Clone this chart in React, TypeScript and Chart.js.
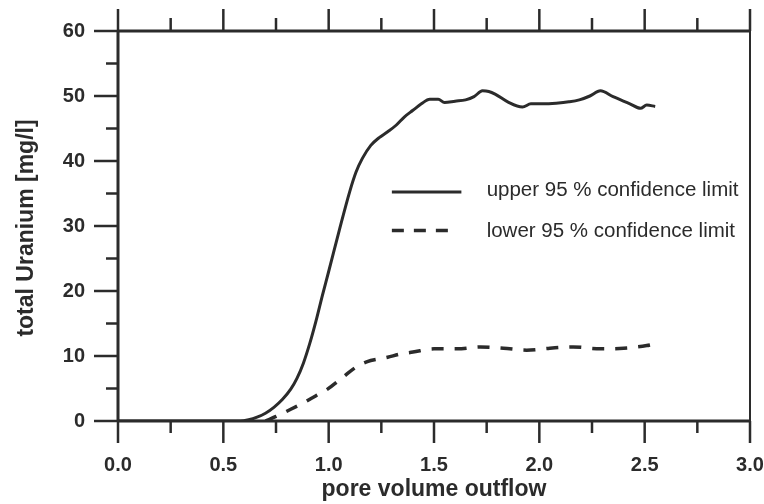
import React, { useEffect, useRef } from "react";
import { Chart, registerables } from "chart.js";

Chart.register(...registerables);

// ---- data ----
const UPPER_X = [0, 0.3, 0.58, 0.62, 0.66, 0.7, 0.74, 0.78, 0.82, 0.85, 0.88, 0.91, 0.94, 0.97, 1.0, 1.05, 1.1, 1.13, 1.16, 1.2, 1.24, 1.28, 1.32, 1.36, 1.4, 1.44, 1.48, 1.52, 1.55, 1.6, 1.65, 1.69, 1.73, 1.76, 1.79, 1.85, 1.92, 1.96, 2.02, 2.08, 2.14, 2.19, 2.24, 2.29, 2.35, 2.43, 2.48, 2.51, 2.55];
const UPPER_Y = [0, 0, 0, 0.2, 0.6, 1.2, 2.1, 3.3, 4.9, 6.6, 8.9, 11.9, 15.4, 19.3, 23.0, 29.3, 35.3, 38.3, 40.4, 42.4, 43.6, 44.5, 45.5, 46.8, 47.8, 48.8, 49.5, 49.5, 49.0, 49.2, 49.4, 49.9, 50.8, 50.7, 50.3, 49.1, 48.3, 48.8, 48.8, 48.9, 49.1, 49.4, 50.0, 50.8, 49.9, 48.8, 48.1, 48.6, 48.4];

const LOWER_X = [0.7, 0.75, 0.82, 0.88, 0.94, 0.99, 1.07, 1.13, 1.18, 1.28, 1.34, 1.4, 1.5, 1.61, 1.72, 1.83, 1.94, 2.05, 2.16, 2.29, 2.4, 2.51, 2.54];
const LOWER_Y = [0, 0.7, 1.8, 2.8, 3.9, 4.8, 6.8, 8.3, 9.1, 9.8, 10.3, 10.6, 11.1, 11.1, 11.4, 11.2, 10.9, 11.2, 11.4, 11.1, 11.2, 11.6, 11.8];

const X_MAJOR = [0, 0.5, 1.0, 1.5, 2.0, 2.5, 3.0];
const X_LABELS = ["0.0", "0.5", "1.0", "1.5", "2.0", "2.5", "3.0"];
const X_MINOR = [0.25, 0.75, 1.25, 1.75, 2.25, 2.75];
const Y_MAJOR = [0, 10, 20, 30, 40, 50, 60];
const Y_LABELS = ["0", "10", "20", "30", "40", "50", "60"];
const Y_MINOR = [5, 15, 25, 35, 45, 55];

const SERIES_NAMES = ["upper 95 % confidence limit", "lower 95 % confidence limit"];
const X_TITLE = "pore volume outflow";
const Y_TITLE = "total Uranium [mg/l]";

const INK = "#2b2b2b";
const BOLD = "bold 20px 'Liberation Sans', Arial, sans-serif";
const TITLE = "bold 23px 'Liberation Sans', Arial, sans-serif";
const LEG = "20.5px 'Liberation Sans', Arial, sans-serif";

const framePlugin = {
  id: "frame",
  afterDatasetsDraw(chart: any) {
    const { ctx, chartArea, scales } = chart;
    const { left, right, top, bottom } = chartArea;
    const xs = scales.x;
    const ys = scales.y;
    ctx.save();
    ctx.strokeStyle = INK;
    ctx.fillStyle = INK;
    ctx.lineCap = "butt";

    ctx.lineWidth = 2.5;
    const line = (x1: number, y1: number, x2: number, y2: number) => {
      ctx.beginPath();
      ctx.moveTo(x1, y1);
      ctx.lineTo(x2, y2);
      ctx.stroke();
    };
    X_MAJOR.forEach((v) => {
      const px = xs.getPixelForValue(v);
      line(px, bottom, px, bottom + 22);
      line(px, top, px, top - 22);
    });
    X_MINOR.forEach((v) => {
      const px = xs.getPixelForValue(v);
      line(px, bottom, px, bottom + 12);
      line(px, top, px, top - 13);
    });
    Y_MAJOR.forEach((v) => {
      const py = ys.getPixelForValue(v);
      line(left, py, left - 24, py);
    });
    Y_MINOR.forEach((v) => {
      const py = ys.getPixelForValue(v);
      line(left, py, left - 12, py);
    });

    // frame
    ctx.lineWidth = 3;
    line(left, top, right, top);
    line(left, bottom, right, bottom);
    line(left, top, left, bottom);
    ctx.lineWidth = 2;
    line(right, top, right, bottom);

    // tick labels
    ctx.font = BOLD;
    ctx.textAlign = "center";
    ctx.textBaseline = "middle";
    X_MAJOR.forEach((v, i) => {
      ctx.fillText(X_LABELS[i], xs.getPixelForValue(v), bottom + 44);
    });
    ctx.textAlign = "right";
    Y_MAJOR.forEach((v, i) => {
      ctx.fillText(Y_LABELS[i], left - 33, ys.getPixelForValue(v));
    });

    // axis titles
    ctx.font = TITLE;
    ctx.textAlign = "center";
    ctx.fillText(X_TITLE, (left + right) / 2, bottom + 69);
    ctx.save();
    ctx.translate(27, (top + bottom) / 2 + 2);
    ctx.rotate(-Math.PI / 2);
    ctx.fillText(Y_TITLE, 0, 0);
    ctx.restore();

    // legend
    ctx.font = LEG;
    ctx.textAlign = "left";
    ctx.textBaseline = "alphabetic";
    const lx1 = xs.getPixelForValue(1.3);
    const lx2 = xs.getPixelForValue(1.63);
    const tx = xs.getPixelForValue(1.75);
    const y1 = ys.getPixelForValue(35.23);
    const y2 = ys.getPixelForValue(29.3);
    ctx.lineWidth = 3;
    line(lx1, y1, lx2, y1);
    ctx.setLineDash([12, 10]);
    ctx.lineWidth = 3.5;
    line(lx1, y2, lx2 - 12, y2);
    ctx.setLineDash([]);
    ctx.fillText(SERIES_NAMES[0], tx, y1 + 3.5);
    ctx.fillText(SERIES_NAMES[1], tx, y2 + 6);

    ctx.restore();
  },
};

export default function App() {
  const ref = useRef<HTMLCanvasElement | null>(null);
  useEffect(() => {
    if (!ref.current) return;
    const chart = new Chart(ref.current, {
      type: "line",
      data: {
        datasets: [
          {
            label: SERIES_NAMES[0],
            data: UPPER_X.map((x, i) => ({ x, y: UPPER_Y[i] })),
            borderColor: INK,
            borderWidth: 3,
            pointRadius: 0,
            cubicInterpolationMode: "monotone",
            fill: false,
          },
          {
            label: SERIES_NAMES[1],
            data: LOWER_X.map((x, i) => ({ x, y: LOWER_Y[i] })),
            borderColor: INK,
            borderWidth: 3.5,
            borderDash: [12, 11],
            pointRadius: 0,
            cubicInterpolationMode: "monotone",
            fill: false,
          },
        ],
      },
      options: {
        animation: false,
        responsive: false,
        devicePixelRatio: 1,
        layout: { padding: { left: 118, right: 14, top: 31, bottom: 83 } },
        plugins: { legend: { display: false }, tooltip: { enabled: false } },
        scales: {
          x: { type: "linear", min: 0, max: 3, display: false },
          y: { type: "linear", min: 0, max: 60, display: false },
        },
      },
      plugins: [framePlugin],
    });
    return () => chart.destroy();
  }, []);
  return (
    <div style={{ position: "absolute", left: 0, top: 0, width: 764, height: 504, background: "#fff" }}>
      <canvas ref={ref} width={764} height={504} />
    </div>
  );
}
